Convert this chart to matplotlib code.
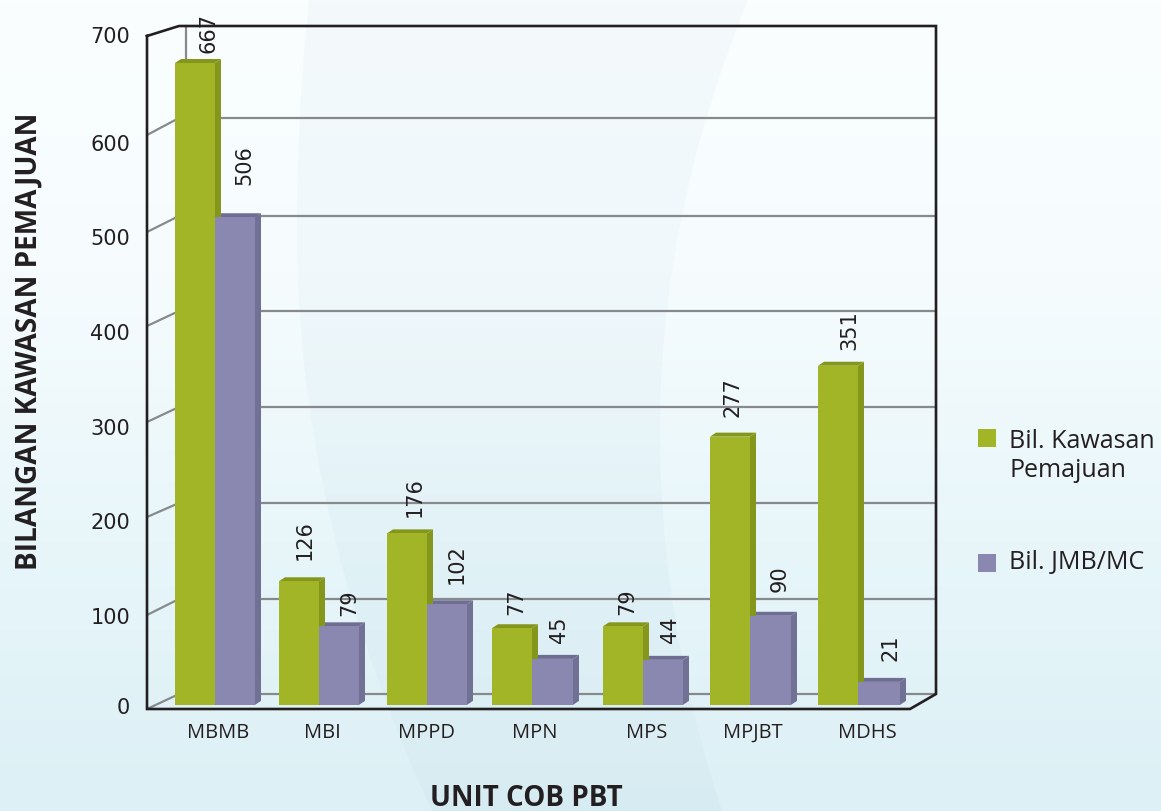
import numpy as np
import matplotlib
matplotlib.use("Agg")
import matplotlib.pyplot as plt
from matplotlib.colors import LinearSegmentedColormap

W, H = 1161, 811

# ---------- data ----------
categories = ["MBMB", "MBI", "MPPD", "MPN", "MPS", "MPJBT", "MDHS"]
kawasan = [667, 126, 176, 77, 79, 277, 351]
jmb = [506, 79, 102, 45, 44, 90, 21]
series_names = ["Bil. Kawasan\nPemajuan", "Bil. JMB/MC"]
y_ticks = [0, 100, 200, 300, 400, 500, 600, 700]

# ---------- layout (pixels) ----------
GREEN, GREEN_D, GREEN_T = "#a2b527", "#84971c", "#84971c"
PURP, PURP_D, PURP_T = "#8a88b0", "#717095", "#6f6e92"
green_left = [175, 279, 387, 492, 603, 710, 818]
bar_w = [40, 40, 40, 40, 40, 40, 40]
purple_w = [40, 40, 40, 41, 40, 41, 42]
cat_x = [218, 322, 427, 535, 647, 753, 867]
ytick_label_y = [708, 618, 523, 429, 334, 239, 145, 37]
grid_front_y = [709, 615, 517, 422, 326, 232, 135]
grid_back_y = [694, 599, 503, 407, 311, 216, 118]
green_lab = [(208, 33), (305, 540), (415, 497), (516, 602), (627, 602), (732, 397), (849, 330)]
purple_lab = [(244, 165), (349, 603), (457, 564), (559, 630), (670, 630), (780, 579), (890, 648)]
DX, DY = 6, 4
TEXT = "#231f20"
FONT = "Open Sans"
NUMFONT = "DejaVu Sans"

fig = plt.figure(figsize=(W / 100, H / 100), dpi=100)

# ---------- background ----------
bg = fig.add_axes([0, 0, 1, 1], zorder=0)
bg.set_xlim(0, W); bg.set_ylim(H, 0); bg.axis("off")
cm = LinearSegmentedColormap.from_list("b", ["#fafefe", "#f6fcfe", "#e8f6fa", "#dcf0f5"])
grad = np.linspace(0, 1, 256)[:, None]
bg.imshow(grad, cmap=cm, extent=(0, W, H, 0), aspect="auto", zorder=0)
yy = np.linspace(0, H, 100)
left = 297 + 12 * ((yy - 230) / 230) ** 2 * (yy < 230) + 135 * (np.clip(yy - 230, 0, None) / 581) ** 2
right = 660 + 88 * ((yy - 430) / 430) ** 2 * (yy < 430) + 62 * (np.clip(yy - 430, 0, None) / 381) ** 2
bg.fill_betweenx(yy, left, right, color="#6fa9c4", alpha=0.045, lw=0, zorder=1)
bg.set_xlim(0, W); bg.set_ylim(H, 0)

# ---------- frame and grid in pixel space ----------
px = fig.add_axes([0, 0, 1, 1], zorder=1)
px.set_xlim(0, W); px.set_ylim(H, 0); px.axis("off")

GRID = "#868a8d"
for yf, yb in zip(grid_front_y, grid_back_y):
    px.plot([147, 179], [yf, yb], color=GRID, lw=1.6, solid_capstyle="butt", zorder=1)
    px.plot([179, 936], [yb, yb], color=GRID, lw=1.6, solid_capstyle="butt", zorder=1)
px.plot([186, 186], [26, 65], color=GRID, lw=1.6, zorder=1)
px.plot([147, 179, 936, 936, 910, 147, 147], [36, 26, 26, 694, 709, 709, 36],
        color=TEXT, lw=1.9, solid_joinstyle="miter", zorder=5)

# ---------- bars on a value axis ----------
top_px, bot_px = 702 - 0.958 * 700, 702
ax = fig.add_axes([0, 1 - bot_px / H, 1, (bot_px - top_px) / H], zorder=2)
ax.set_xlim(0, W); ax.set_ylim(0, 700); ax.axis("off"); ax.patch.set_alpha(0)
BASE = -3
uy = 1 / 0.958


def draw_bars(lefts, widths, values, c, cd, ct):
    for x, w, v in zip(lefts, widths, values):
        ax.bar(x, v - BASE, width=w, bottom=BASE, align="edge", color=c, lw=0, zorder=3, clip_on=False)
        r = x + w
        ax.fill([r, r + DX, r + DX, r], [BASE, BASE + DY * uy, v + DY * uy, v], color=cd, lw=0, zorder=2, clip_on=False)
        ax.fill([x, x + DX, r + DX, r], [v, v + DY * uy, v + DY * uy, v], color=ct, lw=0, zorder=2, clip_on=False)


purple_left = [g + w for g, w in zip(green_left, bar_w)]
draw_bars(purple_left, purple_w, jmb, PURP, PURP_D, PURP_T)
draw_bars(green_left, bar_w, kawasan, GREEN, GREEN_D, GREEN_T)

# ---------- text ----------
tx = fig.add_axes([0, 0, 1, 1], zorder=3)
tx.set_xlim(0, W); tx.set_ylim(H, 0); tx.axis("off"); tx.patch.set_alpha(0)
for v, y in zip(y_ticks, ytick_label_y):
    tx.text(130, y, str(v), ha="right", va="center", fontsize=15, color=TEXT, family=NUMFONT)
for name, x in zip(categories, cat_x):
    tx.text(x, 733, name, ha="center", va="center", fontsize=14.5, color=TEXT, family=FONT)
for vals, pos in ((kawasan, green_lab), (jmb, purple_lab)):
    for v, (x, y) in zip(vals, pos):
        tx.text(x, y, str(v), rotation=90, ha="center", va="center", fontsize=15, color=TEXT, family=NUMFONT)
tx.text(29, 341, "BILANGAN KAWASAN PEMAJUAN", rotation=90, ha="center", va="center",
        fontsize=20.2, fontweight="bold", color=TEXT, family=FONT)
tx.text(526, 798, "UNIT COB PBT", ha="center", va="center", fontsize=20, fontweight="bold", color=TEXT, family=FONT)

# ---------- legend ----------
tx.scatter([987], [438], marker="s", s=155, color=GREEN, lw=0)
tx.scatter([987], [563], marker="s", s=155, color=PURP, lw=0)
tx.text(1009, 456, series_names[0], ha="left", va="center", fontsize=18, color=TEXT, family=FONT, linespacing=1.25)
tx.text(1009, 563, series_names[1], ha="left", va="center", fontsize=18, color=TEXT, family=FONT)

fig.savefig("out.png", dpi=100)
